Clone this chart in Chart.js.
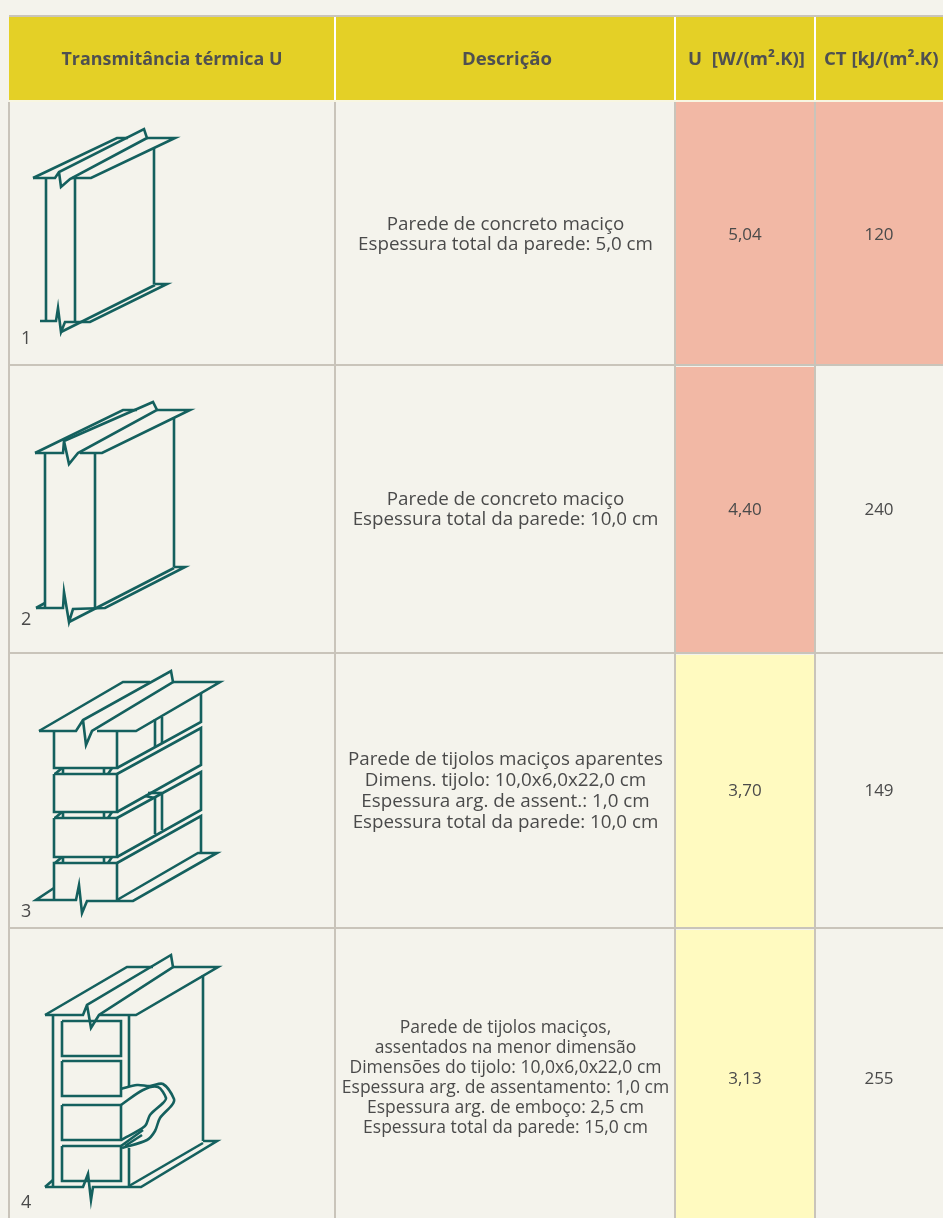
<!DOCTYPE html>
<html>
<head>
<meta charset="utf-8">
<script src="https://cdn.jsdelivr.net/npm/chart.js@4"></script>
<style>
    html, body { margin: 0; padding: 0; background: #f4f3ec; overflow: hidden; }
    canvas { display: block; }
</style>
</head>
<body>
<canvas id="myChart" width="943" height="1218"></canvas>
<script>
"use strict"

// table content
const headers = ["Transmitância térmica U", "Descrição", "U  [W/(m².K)]", "CT [kJ/(m².K)"]
const wallNumbers = ["1", "2", "3", "4"]
const uValues = [5.04, 4.40, 3.70, 3.13]
const ctValues = [120, 240, 149, 255]
const descriptions = [
    ["Parede de concreto maciço", "Espessura total da parede: 5,0 cm"],
    ["Parede de concreto maciço", "Espessura total da parede: 10,0 cm"],
    ["Parede de tijolos maciços aparentes", "Dimens. tijolo: 10,0x6,0x22,0 cm", "Espessura arg. de assent.: 1,0 cm", "Espessura total da parede: 10,0 cm"],
    ["Parede de tijolos maciços,", "assentados na menor dimensão", "Dimensões do tijolo: 10,0x6,0x22,0 cm", "Espessura arg. de assentamento: 1,0 cm", "Espessura arg. de emboço: 2,5 cm", "Espessura total da parede: 15,0 cm"],
]

// wall drawings, one list per stroke, in picture units
const wall1 = [
    [[33, 178], [117, 138], [128, 138]],
    [[33, 178], [55, 178], [59, 172], [144, 129], [147, 138], [70, 179], [61, 187], [59, 172]],
    [[147, 138], [175, 138], [91, 178], [72, 178]],
    [[46, 178], [46, 321]],
    [[75, 178], [75, 322]],
    [[154, 148], [154, 284]],
    [[40, 321], [56, 321], [58, 308], [61, 332], [65, 322], [90, 322], [167, 284], [155, 284]],
    [[61, 332], [155, 285]],
]
const wall2 = [
    [[35, 453], [123, 410], [137, 410]],
    [[35, 453], [63, 453], [64, 441], [153, 402], [157, 410], [78, 453], [69, 464], [64, 441]],
    [[157, 410], [190, 410], [102, 453], [80, 453]],
    [[45, 453], [45, 608]],
    [[95, 453], [95, 608]],
    [[174, 417], [174, 567]],
    [[36, 608], [63, 608], [64, 592], [69, 622], [73, 609], [105, 608], [185, 567], [174, 567]],
    [[69, 622], [174, 568]],
    [[36, 608], [45, 603]],
]
const wall3 = [
    [[39, 731], [123, 682], [150, 682]],
    [[39, 731], [76, 731], [83, 720], [171, 671], [173, 682], [92, 731], [86, 745], [83, 720]],
    [[173, 682], [220, 682], [136, 731], [97, 731]],
    [[54, 731], [54, 768], [117, 768], [117, 731]],
    [[117, 768], [201, 722], [201, 693]],
    [[155, 719], [155, 747]],
    [[162, 717], [162, 743]],
    [[54, 774], [117, 774], [117, 812], [54, 812], [54, 774]],
    [[117, 774], [201, 728], [201, 765], [117, 812]],
    [[54, 818], [117, 818], [117, 857], [54, 857], [54, 818]],
    [[117, 818], [201, 772], [201, 810], [117, 857]],
    [[155, 797], [155, 834]],
    [[162, 793], [162, 830]],
    [[145, 796], [155, 798]],
    [[148, 793], [162, 793]],
    [[54, 900], [54, 863], [117, 863], [117, 900]],
    [[117, 863], [201, 816], [201, 853]],
    [[117, 900], [198, 853], [217, 853], [133, 901], [87, 901], [82, 913], [79, 885], [76, 900], [36, 900], [54, 888]],
    [[55, 774], [62, 768]], [[63, 769], [63, 774]], [[104, 769], [104, 774]], [[108, 774], [112, 768]],
    [[55, 818], [62, 812]], [[63, 813], [63, 818]], [[104, 813], [104, 818]], [[108, 818], [112, 812]],
    [[55, 863], [62, 857]], [[63, 858], [63, 863]], [[104, 858], [104, 863]], [[108, 863], [112, 857]],
]
const wall4 = [
    [[45, 1015], [127, 967], [153, 967]],
    [[45, 1015], [83, 1015], [87, 1005], [171, 955], [173, 967], [99, 1015], [91, 1028], [87, 1005]],
    [[173, 967], [218, 967], [136, 1015], [100, 1015]],
    [[53, 1015], [53, 1186]],
    [[129, 1015], [129, 1087]],
    [[129, 1148], [129, 1186]],
    [[203, 975], [203, 1141]],
    [[45, 1187], [83, 1187], [88, 1174], [91, 1200], [93, 1187], [141, 1187], [217, 1141], [203, 1141]],
    [[129, 1186], [203, 1143]],
    [[45, 1187], [53, 1180]],
    [[62, 1021], [121, 1021], [121, 1056], [62, 1056], [62, 1021]],
    [[62, 1061], [121, 1061], [121, 1096], [62, 1096], [62, 1061]],
    [[62, 1105], [121, 1105], [121, 1140], [62, 1140], [62, 1105]],
    [[62, 1146], [121, 1146], [121, 1181], [62, 1181], [62, 1146]],
    [[121, 1146], [143, 1130]],
    [[125, 1146], [142, 1135]],
]
const wall4Patch = [
    [[121, 1089], [137, 1085], [150, 1086], [163, 1084], [174, 1099], [172, 1105], [160, 1118], [155, 1131], [147, 1140], [122, 1148]],
    [[121, 1105], [143, 1090], [158, 1087], [166, 1098], [163, 1103], [150, 1115], [145, 1126], [121, 1140]],
]

// layout of the table, in picture units
const colEdges = [9, 335, 675, 815, 943]
const rowEdges = [16, 100, 365, 653, 928, 1218]
const numberRows = [339, 620, 912, 1203]
const textRows = [225, 500, 760, 1028]
const valueRows = [235, 510, 791, 1079]
const bodyLineHeights = [20, 20, 21, 20]
const bodyFontSizes = [18.8, 18.8, 18.8, 17.5]

const COLORS = {
    page: "#f4f3ec",
    header: "#e4d026",
    hot: "#f2b8a5",
    warm: "#fffac0",
    grid: "#c9c4ba",
    ink: "#4a4a4a",
    headerInk: "#4f5050",
    wall: "#14605e",
}
const uCellColors = [COLORS.hot, COLORS.hot, COLORS.warm, COLORS.warm]
const ctCellColors = [COLORS.hot, null, null, null]

function strokeDatasets(strokes, tension) {
    return strokes.map(stroke => ({
        data: stroke.map(p => ({ x: p[0], y: p[1] })),
        showLine: true,
        borderColor: COLORS.wall,
        borderWidth: 2.6,
        borderJoinStyle: "miter",
        pointRadius: 0,
        tension: tension,
    }))
}

function commaNumber(value) {
    return value.toFixed(2).replace(".", ",")
}

const tablePlugin = {
    id: "table",
    beforeDatasetsDraw(chart) {
        const ctx = chart.ctx
        const X = v => chart.scales.x.getPixelForValue(v)
        const Y = v => chart.scales.y.getPixelForValue(v)
        const rect = (x0, y0, x1, y1, color) => {
            ctx.fillStyle = color
            ctx.fillRect(X(x0), Y(y0), X(x1) - X(x0), Y(y1) - Y(y0))
        }

        ctx.save()
        rect(0, 0, 943, 1218, COLORS.page)

        // header band
        rect(colEdges[0], rowEdges[0], 943, rowEdges[1], COLORS.header)
        rect(colEdges[0], rowEdges[0] - 1, 943, rowEdges[0] + 1, COLORS.grid)
        colEdges.slice(1, 4).forEach(x => rect(x - 1, rowEdges[0] + 1, x + 1, rowEdges[1], "#ffffff"))
        rect(colEdges[0], rowEdges[1], 943, rowEdges[1] + 2, "#f8f6e2")

        // coloured cells
        uValues.forEach((u, i) => {
            rect(colEdges[2], rowEdges[i + 1] + 2, colEdges[3], rowEdges[i + 2], uCellColors[i])
            if (ctCellColors[i]) rect(colEdges[3], rowEdges[i + 1] + 2, colEdges[4], rowEdges[i + 2], ctCellColors[i])
        })

        // grid lines
        colEdges.slice(0, 4).forEach(x => rect(x - 1, rowEdges[1] + 2, x + 1, 1218, COLORS.grid))
        rowEdges.slice(2, 5).forEach(y => rect(colEdges[0], y - 1, 943, y + 1, COLORS.grid))
        ctx.restore()
    },
    afterDatasetsDraw(chart) {
        const ctx = chart.ctx
        const X = v => chart.scales.x.getPixelForValue(v)
        const Y = v => chart.scales.y.getPixelForValue(v)
        const font = "'Open Sans', sans-serif"

        ctx.save()
        ctx.textBaseline = "middle"

        // header
        ctx.fillStyle = COLORS.headerInk
        ctx.font = `bold 18.6px ${font}`
        ctx.textAlign = "center"
        ctx.fillText(headers[0], X(172), Y(60), 221)
        ctx.fillText(headers[1], X(507), Y(60), 91)
        ctx.textAlign = "left"
        ctx.fillText(headers[2], X(688), Y(60), 117)
        ctx.fillText(headers[3], X(824), Y(60), 118)

        // body
        ctx.fillStyle = COLORS.ink
        wallNumbers.forEach((label, i) => {
            ctx.textAlign = "left"
            ctx.font = `18px ${font}`
            ctx.fillText(label, X(21), Y(numberRows[i]))

            ctx.textAlign = "center"
            ctx.font = `${bodyFontSizes[i]}px ${font}`
            descriptions[i].forEach((line, n) => {
                ctx.fillText(line, X(505.5), Y(textRows[i] + n * bodyLineHeights[i]))
            })

            ctx.font = `17px ${font}`
            ctx.fillText(commaNumber(uValues[i]), X(745), Y(valueRows[i]))
            ctx.fillText(String(ctValues[i]), X(879), Y(valueRows[i]))
        })
        ctx.restore()
    },
}

new Chart(document.getElementById("myChart").getContext("2d"), {
    type: "scatter",
    data: {
        datasets: [
            ...strokeDatasets(wall1, 0),
            ...strokeDatasets(wall2, 0),
            ...strokeDatasets(wall3, 0),
            ...strokeDatasets(wall4, 0),
            ...strokeDatasets(wall4Patch, 0.3),
        ],
    },
    options: {
        responsive: false,
        animation: false,
        layout: { padding: 0 },
        plugins: { legend: { display: false }, tooltip: { enabled: false } },
        scales: {
            x: { type: "linear", min: 0, max: 943, display: false },
            y: { type: "linear", min: 0, max: 1218, reverse: true, display: false },
        },
    },
    plugins: [tablePlugin],
})
</script>
</body>
</html>
